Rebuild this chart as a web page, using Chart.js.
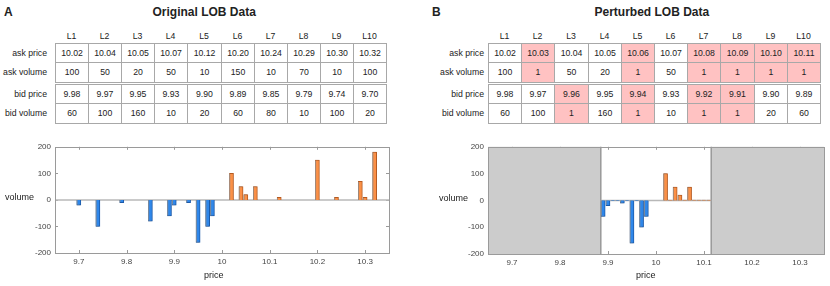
<!DOCTYPE html>
<html>
<head>
<meta charset="utf-8">
<script src="https://cdn.jsdelivr.net/npm/chart.js@4"></script>
<style>
  body { margin: 0; width: 830px; height: 286px; background: #fff; position: relative; overflow: hidden;
         font-family: "Liberation Sans", Arial, Helvetica, sans-serif; color: #222; }
  .abs { position: absolute; white-space: nowrap; }
  .panel { font-weight: bold; font-size: 12px; }
  .cell { position: absolute; box-sizing: border-box; border: 1px solid #a8a8a8; text-align: center; font-size: 8.7px; }
  .hdr { position: absolute; text-align: center; font-size: 8.7px; height: 12px; line-height: 12px; }
  .rl { position: absolute; text-align: right; font-size: 8.7px; }
  .axl { position: absolute; font-size: 9px; white-space: nowrap; }
  canvas { position: absolute; }
</style>
</head>
<body>
<div class="abs panel" style="left:4px;top:5px;">A</div>
<div class="abs panel" style="left:432px;top:5px;">B</div>
<div class="abs panel" id="titleA" style="top:5px;">Original LOB Data</div>
<div class="abs panel" id="titleB" style="top:5px;">Perturbed LOB Data</div>
<div id="tables"></div>
<canvas id="chartA" width="400" height="148" style="left:0;top:138px;"></canvas>
<canvas id="chartB" width="415" height="148" style="left:415px;top:138px;"></canvas>
<div class="axl" style="left:5px;top:192px;">volume</div>
<div class="axl" style="left:439px;top:193px;">volume</div>
<div class="axl" id="priceA" style="top:270px;">price</div>
<div class="axl" id="priceB" style="top:270px;">price</div>
<script>
// order book levels and table rows
const levels = ["L1","L2","L3","L4","L5","L6","L7","L8","L9","L10"];
const rowNames = ["ask price","ask volume","bid price","bid volume"];

// original book (panel A)
const origAskPrice = ["10.02","10.04","10.05","10.07","10.12","10.20","10.24","10.29","10.30","10.32"];
const origAskVolume = [100,50,20,50,10,150,10,70,10,100];
const origBidPrice = ["9.98","9.97","9.95","9.93","9.90","9.89","9.85","9.79","9.74","9.70"];
const origBidVolume = [60,100,160,10,20,60,80,10,100,20];

// perturbed book (panel B)
const pertAskPrice = ["10.02","10.03","10.04","10.05","10.06","10.07","10.08","10.09","10.10","10.11"];
const pertAskVolume = [100,1,50,20,1,50,1,1,1,1];
const pertBidPrice = ["9.98","9.97","9.96","9.95","9.94","9.93","9.92","9.91","9.90","9.89"];
const pertBidVolume = [60,100,1,160,1,10,1,1,20,60];
const pertAskMarked = [0,1,0,0,1,0,1,1,1,1];
const pertBidMarked = [0,0,1,0,1,0,1,1,0,0];

// bar heights as drawn in plot A (last ask bar is drawn at about 180)
const plotAskVolumeA = [100,50,20,50,10,150,10,70,10,180];

const xTicks = [9.7,9.8,9.9,10,10.1,10.2,10.3];
const yTicks = [-200,-100,0,100,200];
const priceRange = [9.65,10.35];
const volumeRange = [-200,200];
const windowB = [9.885,10.115];

// ---------- tables ----------
const rowTops = [43,62,84,103];
const rowHeights = [20,21,20,21];

function buildTable(left, right, labelRight, prices, vols, askMark, bidMark) {
  const box = document.getElementById("tables");
  const cw = (right - left) / levels.length;
  const colX = i => Math.round(left + i * cw);
  let html = "";
  levels.forEach((lv, i) => {
    html += `<div class="hdr" style="left:${colX(i)}px;top:30px;width:${colX(i+1)-colX(i)}px">${lv}</div>`;
  });
  const rows = [prices.ask, vols.ask, prices.bid, vols.bid];
  const marks = [askMark, askMark, bidMark, bidMark];
  rows.forEach((vals, r) => {
    const h = rowHeights[r];
    html += `<div class="rl" style="left:${labelRight-70}px;width:70px;top:${rowTops[r]}px;height:${h}px;line-height:${h}px">${rowNames[r]}</div>`;
    vals.forEach((v, i) => {
      const bg = marks[r] && marks[r][i] ? "#ffc2c2" : "#fff";
      html += `<div class="cell" style="left:${colX(i)}px;top:${rowTops[r]}px;width:${colX(i+1)-colX(i)+1}px;height:${h}px;line-height:${h-2}px;background:${bg}">${v}</div>`;
    });
  });
  box.innerHTML += html;
}

buildTable(55, 386, 47, {ask: origAskPrice, bid: origBidPrice}, {ask: origAskVolume, bid: origBidVolume}, null, null);
buildTable(488, 820, 484, {ask: pertAskPrice, bid: pertBidPrice}, {ask: pertAskVolume, bid: pertBidVolume}, pertAskMarked, pertBidMarked);

function centerAt(id, cx) {
  const el = document.getElementById(id);
  el.style.left = (cx - el.offsetWidth / 2) + "px";
}
centerAt("titleA", 204);
centerAt("titleB", 652);
centerAt("priceA", 214);
centerAt("priceB", 646);

// ---------- charts ----------
const framePlugin = {
  id: "lobFrame",
  beforeDatasetsDraw(chart, args, opts) {
    const {ctx, chartArea: a, scales: {x, y}} = chart;
    ctx.save();
    // inner tick marks
    ctx.strokeStyle = "#9a9a9a";
    ctx.lineWidth = 1;
    ctx.beginPath();
    xTicks.forEach(v => {
      const px = Math.round(x.getPixelForValue(v)) + 0.5;
      ctx.moveTo(px, a.top); ctx.lineTo(px, a.top + 3);
      ctx.moveTo(px, a.bottom); ctx.lineTo(px, a.bottom - 3);
    });
    yTicks.forEach(v => {
      const py = Math.round(y.getPixelForValue(v)) + 0.5;
      ctx.moveTo(a.left, py); ctx.lineTo(a.left + 3, py);
      ctx.moveTo(a.right, py); ctx.lineTo(a.right - 3, py);
    });
    ctx.stroke();
    let x0 = a.left, x1 = a.right;
    if (opts.window) {
      x0 = x.getPixelForValue(opts.window[0]);
      x1 = x.getPixelForValue(opts.window[1]);
      ctx.fillStyle = "#cccccc";
      ctx.fillRect(a.left, a.top, x0 - a.left, a.bottom - a.top);
      ctx.fillRect(x1, a.top, a.right - x1, a.bottom - a.top);
      ctx.strokeStyle = "#999";
      ctx.lineWidth = 1.5;
      ctx.beginPath();
      ctx.moveTo(x0, a.top); ctx.lineTo(x0, a.bottom);
      ctx.moveTo(x1, a.top); ctx.lineTo(x1, a.bottom);
      ctx.stroke();
    }
    const y0 = y.getPixelForValue(0);
    ctx.strokeStyle = "#b8b8b8";
    ctx.lineWidth = 1.5;
    ctx.beginPath();
    ctx.moveTo(x0, y0); ctx.lineTo(x1, y0);
    ctx.stroke();
    ctx.restore();
    // light shadow to the left of each bar
    ctx.save();
    ctx.shadowColor = "rgba(150,150,150,0.8)";
    ctx.shadowOffsetX = -1;
    ctx.shadowOffsetY = 0;
    ctx.shadowBlur = 0;
  },
  afterDatasetsDraw(chart) {
    chart.ctx.restore();
  },
  afterDraw(chart) {
    const {ctx, chartArea: a} = chart;
    ctx.save();
    ctx.strokeStyle = "#9a9a9a";
    ctx.lineWidth = 1;
    ctx.strokeRect(Math.round(a.left) + 0.5, Math.round(a.top) + 0.5,
                   Math.round(a.right - a.left), Math.round(a.bottom - a.top));
    ctx.restore();
  }
};

function toBars(prices, vols, sign) {
  return prices.map((p, i) => ({x: parseFloat(p), y: sign * vols[i]}));
}

function makeChart(id, bids, asks, opt) {
  return new Chart(document.getElementById(id), {
    type: "bar",
    data: {
      datasets: [
        {label: "bid", data: bids, backgroundColor: "#2f87ea", borderColor: "#1c5aa8",
         borderWidth: 1, barThickness: 4, grouped: false},
        {label: "ask", data: asks, backgroundColor: "#fb9046", borderColor: "#b55a20",
         borderWidth: 1, barThickness: 4, grouped: false}
      ]
    },
    options: {
      responsive: false,
      animation: false,
      layout: {padding: {top: 6, right: opt.padRight, left: 0, bottom: 0}},
      plugins: {legend: {display: false}, tooltip: {enabled: false}, lobFrame: {window: opt.window}},
      scales: {
        x: {
          type: "linear",
          offset: false,
          min: priceRange[0], max: priceRange[1],
          afterBuildTicks: s => { s.ticks = xTicks.map(v => ({value: v})); },
          afterFit: s => { s.height = opt.xHeight; },
          grid: {display: false, drawTicks: false, offset: false},
          border: {display: false},
          ticks: {font: {size: 8, family: "Liberation Sans"}, color: "#444", padding: 4,
                  maxRotation: 0, autoSkip: false, callback: v => String(+v.toFixed(2))}
        },
        y: {
          min: volumeRange[0], max: volumeRange[1],
          afterBuildTicks: s => { s.ticks = yTicks.map(v => ({value: v})); },
          afterFit: s => { s.width = opt.yWidth; },
          grid: {display: false, drawTicks: false},
          border: {display: false},
          ticks: {font: {size: 8, family: "Liberation Sans"}, color: "#444", padding: 4}
        }
      }
    },
    plugins: [framePlugin]
  });
}

makeChart("chartA",
  toBars(origBidPrice, origBidVolume, -1),
  toBars(origAskPrice, plotAskVolumeA, 1),
  {padRight: 11, xHeight: 33, yWidth: 55, window: null});

makeChart("chartB",
  toBars(pertBidPrice, pertBidVolume, -1),
  toBars(pertAskPrice, pertAskVolume, 1),
  {padRight: 6, xHeight: 32, yWidth: 73, window: windowB});
</script>
</body>
</html>
